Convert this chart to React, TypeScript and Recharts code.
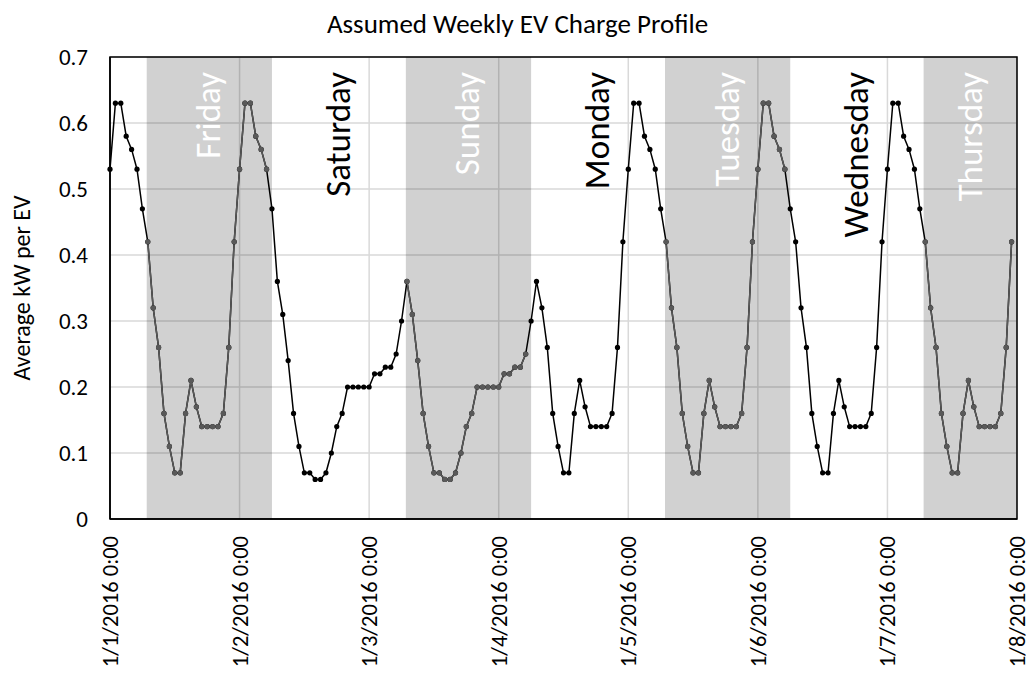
import { CartesianGrid, Line, LineChart, ReferenceArea, ReferenceLine, XAxis, YAxis } from "recharts"

const FONT = "Carlito, Calibri, Lato, 'Liberation Sans', sans-serif"

// hourly kW per EV, one array per calendar day (0:00 .. 23:00)
const fri = [0.53, 0.63, 0.63, 0.58, 0.56, 0.53, 0.47, 0.42, 0.32, 0.26, 0.16, 0.11, 0.07, 0.07, 0.16, 0.21, 0.17, 0.14, 0.14, 0.14, 0.14, 0.16, 0.26, 0.42]
const sat = [0.53, 0.63, 0.63, 0.58, 0.56, 0.53, 0.47, 0.36, 0.31, 0.24, 0.16, 0.11, 0.07, 0.07, 0.06, 0.06, 0.07, 0.1, 0.14, 0.16, 0.2, 0.2, 0.2, 0.2]
const sun = [0.2, 0.22, 0.22, 0.23, 0.23, 0.25, 0.3, 0.36, 0.31, 0.24, 0.16, 0.11, 0.07, 0.07, 0.06, 0.06, 0.07, 0.1, 0.14, 0.16, 0.2, 0.2, 0.2, 0.2]
const mon = [0.2, 0.22, 0.22, 0.23, 0.23, 0.25, 0.3, 0.36, 0.32, 0.26, 0.16, 0.11, 0.07, 0.07, 0.16, 0.21, 0.17, 0.14, 0.14, 0.14, 0.14, 0.16, 0.26, 0.42]
const tue = [0.53, 0.63, 0.63, 0.58, 0.56, 0.53, 0.47, 0.42, 0.32, 0.26, 0.16, 0.11, 0.07, 0.07, 0.16, 0.21, 0.17, 0.14, 0.14, 0.14, 0.14, 0.16, 0.26, 0.42]
const wed = [0.53, 0.63, 0.63, 0.58, 0.56, 0.53, 0.47, 0.42, 0.32, 0.26, 0.16, 0.11, 0.07, 0.07, 0.16, 0.21, 0.17, 0.14, 0.14, 0.14, 0.14, 0.16, 0.26, 0.42]
const thu = [0.53, 0.63, 0.63, 0.58, 0.56, 0.53, 0.47, 0.42, 0.32, 0.26, 0.16, 0.11, 0.07, 0.07, 0.16, 0.21, 0.17, 0.14, 0.14, 0.14, 0.14, 0.16, 0.26, 0.42]

const dateLabels = ["1/1/2016 0:00", "1/2/2016 0:00", "1/3/2016 0:00", "1/4/2016 0:00", "1/5/2016 0:00", "1/6/2016 0:00", "1/7/2016 0:00", "1/8/2016 0:00"]
const xTicks = [0, 24, 48, 72, 96, 120, 144, 168]
const yTicks = [0, 0.1, 0.2, 0.3, 0.4, 0.5, 0.6, 0.7]

// shaded day bands (hours from 1/1 0:00)
const bandStart = [6.8, 54.8, 102.8, 150.7]
const bandEnd = [30, 78, 126, 168]

const dayNames = ["Friday", "Saturday", "Sunday", "Monday", "Tuesday", "Wednesday", "Thursday"]
const dayCenter = [18.4, 42.4, 66.4, 90.4, 114.4, 138.4, 159.4]
const dayShaded = [true, false, true, false, true, false, true]

const values = [...fri, ...sat, ...sun, ...mon, ...tue, ...wed, ...thu]
const inBand = (h: number) => bandStart.some((s, i) => h > s && h < bandEnd[i])
const data = values.map((v, h) => ({ hour: h, kw: v, shaded: inBand(h) ? v : null }))

const dayLabel = (name: string, color: string) => (props: any) => {
  const vb = props.viewBox
  return (
    <text
      transform={`translate(${vb.x + 11},${vb.y + 15}) rotate(-90)`}
      textAnchor="end"
      fill={color}
      fontSize={35}
      fontFamily={FONT}
    >
      {name}
    </text>
  )
}

const DateTick = (props: any) => {
  const { x, y, payload } = props
  return (
    <text
      transform={`translate(${x + 8},${y + 9}) rotate(-90)`}
      textAnchor="end"
      fill="#000"
      fontSize={22.5}
      fontFamily={FONT}
    >
      {dateLabels[xTicks.indexOf(payload.value)]}
    </text>
  )
}

const yTitle = (props: any) => {
  const vb = props.viewBox
  return (
    <text
      transform={`translate(22,${vb.y + vb.height / 2}) rotate(-90)`}
      textAnchor="middle"
      fill="#000"
      fontSize={24}
      fontFamily={FONT}
    >
      Average kW per EV
    </text>
  )
}

export default function App() {
  return (
    <div style={{ position: "relative", width: 1019, height: 661 }}>
      <div
        style={{
          position: "absolute",
          top: -1,
          left: 0,
          width: 1019,
          textAlign: "center",
          fontFamily: FONT,
          fontSize: 27,
          color: "#000",
        }}
      >
        Assumed Weekly EV Charge Profile
      </div>
      <LineChart width={1019} height={661} data={data} margin={{ top: 49, right: 10, left: 22, bottom: 10 }}>
        <CartesianGrid stroke="#d9d9d9" strokeWidth={1.5} />
        {bandStart.map((s, i) => (
          <ReferenceArea key={s} x1={s} x2={bandEnd[i]} y1={0} y2={0.7} fill="#000" fillOpacity={0.18} stroke="none" />
        ))}
        {dayNames.map((d, i) => (
          <ReferenceLine
            key={d}
            x={dayCenter[i]}
            stroke="none"
            label={dayLabel(d, dayShaded[i] ? "#fff" : "#000")}
          />
        ))}
        <XAxis
          dataKey="hour"
          type="number"
          domain={[0, 168]}
          ticks={xTicks}
          height={140}
          tickLine={false}
          axisLine={{ stroke: "#000", strokeWidth: 1.5 }}
          tick={<DateTick />}
          interval={0}
        />
        <YAxis
          domain={[0, 0.7]}
          ticks={yTicks}
          width={80}
          tickLine={false}
          axisLine={{ stroke: "#000", strokeWidth: 1.5 }}
          tickMargin={16}
          tick={{ fill: "#000", fontSize: 23, fontFamily: FONT }}
          tickFormatter={(v) => (v === 0 ? "0" : v.toFixed(1))}
          label={yTitle}
        />
        <ReferenceArea x1={0} x2={168} y1={0} y2={0.7} fill="none" stroke="#000" strokeWidth={1.5} />
        <Line
          dataKey="kw"
          stroke="#000"
          strokeWidth={1.5}
          dot={{ r: 2.6, fill: "#000", stroke: "none" }}
          isAnimationActive={false}
        />
        <Line
          dataKey="shaded"
          stroke="#595959"
          strokeWidth={1.5}
          dot={{ r: 2.6, fill: "#595959", stroke: "none" }}
          connectNulls={false}
          isAnimationActive={false}
        />
      </LineChart>
    </div>
  )
}
